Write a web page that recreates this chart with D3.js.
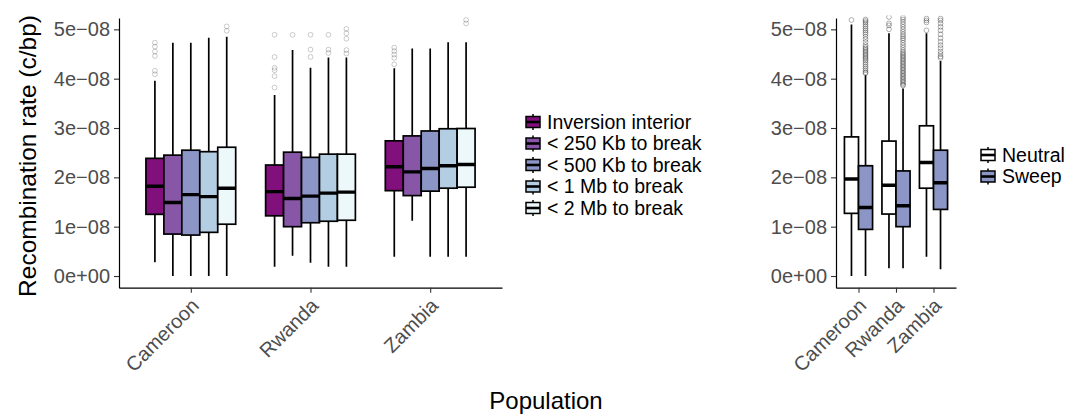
<!DOCTYPE html>
<html>
<head>
<meta charset="utf-8">
<script src="https://cdn.jsdelivr.net/npm/d3@7"></script>
<style>
  html, body { margin: 0; padding: 0; background: #fff; }
  svg { display: block; font-family: "Liberation Sans", Arial, sans-serif; }
</style>
</head>
<body>
<svg id="chart" width="1080" height="417"></svg>
<script>
// Populations on the x axis of both panels
const populations = ["Cameroon", "Rwanda", "Zambia"];

// Left panel: distance classes relative to inversion breakpoints
const regions = ["Inversion interior", "< 250 Kb to break", "< 500 Kb to break", "< 1 Mb to break", "< 2 Mb to break"];
const regionColors = ["#810f7c", "#8856a7", "#8c96c6", "#b3cde3", "#edf8fb"];

// Box statistics per region, one row per population: [lower whisker, Q1, median, Q3, upper whisker]
const statsInversion = [[0.28e-8, 1.25e-8, 1.82e-8, 2.385e-8, 3.96e-8], [0.19e-8, 1.22e-8, 1.71e-8, 2.25e-8, 3.67e-8], [0.39e-8, 1.73e-8, 2.215e-8, 2.74e-8, 4.21e-8]];
const stats250Kb   = [[0, 0.85e-8, 1.49e-8, 2.45e-8, 4.73e-8], [0.41e-8, 1.0e-8, 1.57e-8, 2.51e-8, 4.58e-8], [1.12e-8, 1.63e-8, 2.11e-8, 2.84e-8, 4.61e-8]];
const stats500Kb   = [[0, 0.83e-8, 1.65e-8, 2.55e-8, 4.73e-8], [0.27e-8, 1.08e-8, 1.62e-8, 2.405e-8, 4.22e-8], [0.39e-8, 1.72e-8, 2.18e-8, 2.94e-8, 4.61e-8]];
const stats1Mb     = [[0, 0.885e-8, 1.61e-8, 2.52e-8, 4.83e-8], [0.19e-8, 1.11e-8, 1.68e-8, 2.47e-8, 4.43e-8], [0.39e-8, 1.78e-8, 2.235e-8, 2.985e-8, 4.74e-8]];
const stats2Mb     = [[0, 1.05e-8, 1.78e-8, 2.61e-8, 4.85e-8], [0.19e-8, 1.13e-8, 1.70e-8, 2.47e-8, 4.43e-8], [0.39e-8, 1.80e-8, 2.26e-8, 2.99e-8, 4.74e-8]];

// Outliers per region, one list per population
const outInversion = [[4.73e-8, 4.65e-8, 4.55e-8, 4.46e-8, 4.16e-8, 4.09e-8], [4.89e-8, 4.44e-8, 4.22e-8, 4.17e-8, 4.05e-8, 3.82e-8], [4.63e-8, 4.56e-8, 4.49e-8, 4.42e-8, 4.29e-8]];
const out250Kb   = [[], [4.89e-8], []];
const out500Kb   = [[], [4.89e-8, 4.59e-8, 4.44e-8], []];
const out1Mb     = [[], [4.89e-8, 4.59e-8, 4.52e-8], []];
const out2Mb     = [[5.06e-8, 4.97e-8], [5.01e-8, 4.92e-8, 4.81e-8, 4.58e-8, 4.51e-8], [5.19e-8, 5.12e-8]];

// Right panel: neutral vs sweep windows
const selection = ["Neutral", "Sweep"];
const selectionColors = ["#ffffff", "#8c96c6"];
const statsNeutral = [[0, 1.27e-8, 1.965e-8, 2.82e-8, 5.1e-8], [0.155e-8, 1.256e-8, 1.84e-8, 2.735e-8, 4.92e-8], [0.39e-8, 1.78e-8, 2.30e-8, 3.045e-8, 4.92e-8]];
const statsSweep   = [[0, 0.945e-8, 1.39e-8, 2.235e-8, 4.07e-8], [0.155e-8, 1.0e-8, 1.425e-8, 2.13e-8, 3.80e-8], [0.135e-8, 1.35e-8, 1.89e-8, 2.55e-8, 4.36e-8]];
const outNeutral = [
  [5.19e-8],
  [5.25e-8, 5.12e-8, 5.08e-8, 5.0e-8],
  [5.22e-8, 5.18e-8, 5.14e-8, 4.98e-8]
];
const outSweep = [
  [5.20e-8, 5.17e-8, 5.14e-8, 5.10e-8, 5.06e-8, 5.02e-8, 4.98e-8, 4.94e-8, 4.90e-8, 4.85e-8, 4.80e-8, 4.74e-8, 4.68e-8, 4.64e-8, 4.61e-8, 4.58e-8, 4.55e-8, 4.52e-8, 4.49e-8, 4.46e-8, 4.43e-8, 4.40e-8, 4.37e-8, 4.33e-8, 4.29e-8, 4.25e-8, 4.21e-8, 4.17e-8, 4.13e-8, 4.11e-8],
  [5.24e-8, 5.20e-8, 5.15e-8, 5.10e-8, 5.05e-8, 5.00e-8, 4.95e-8, 4.90e-8, 4.86e-8, 4.82e-8, 4.78e-8, 4.73e-8, 4.68e-8, 4.63e-8, 4.58e-8, 4.54e-8, 4.51e-8, 4.48e-8, 4.45e-8, 4.42e-8, 4.39e-8, 4.36e-8, 4.33e-8, 4.30e-8, 4.27e-8, 4.24e-8, 4.21e-8, 4.18e-8, 4.15e-8, 4.12e-8, 4.09e-8, 4.06e-8, 4.03e-8, 4.00e-8, 3.97e-8, 3.94e-8, 3.91e-8, 3.88e-8, 3.86e-8],
  [5.22e-8, 5.18e-8, 5.12e-8, 5.05e-8, 4.98e-8, 4.90e-8, 4.82e-8, 4.75e-8, 4.68e-8, 4.62e-8, 4.55e-8, 4.50e-8, 4.45e-8, 4.42e-8]
];

// Y axis ticks and limits (shared by both panels)
const yTicks = [0, 1e-8, 2e-8, 3e-8, 4e-8, 5e-8];
const yLimits = [-2.37e-9, 5.23e-8];

const leftStats = [statsInversion, stats250Kb, stats500Kb, stats1Mb, stats2Mb];
const leftOut = [outInversion, out250Kb, out500Kb, out1Mb, out2Mb];
const rightStats = [statsNeutral, statsSweep];
const rightOut = [outNeutral, outSweep];

const svg = d3.select("#chart");
const panelTop = 18, panelBottom = 287.7;

const y = d3.scaleLinear().domain(yLimits).range([panelBottom, panelTop]);

function fmtTick(v) {
  if (v === 0) return "0e+00";
  const exp = Math.floor(Math.log10(Math.abs(v)) + 1e-9);
  const mant = Math.round(v / Math.pow(10, exp));
  return mant + "e\u2212" + String(-exp).padStart(2, "0");
}

function drawPanel(opts) {
  const { id, x0, x1, groups, stats, outliers, colors, outOpacity } = opts;
  const x = d3.scalePoint().domain(populations).range([x0, x1]).padding(0.6);
  const step = x.step();
  const sub = d3.scaleBand().domain(groups).range([-0.375 * step, 0.375 * step]).padding(0);
  const bw = sub.bandwidth();

  const g = svg.append("g");

  svg.append("clipPath").attr("id", id)
    .append("rect").attr("x", x0).attr("y", 15.5).attr("width", x1 - x0).attr("height", panelBottom - 15.5);

  const plot = g.append("g").attr("clip-path", `url(#${id})`);

  groups.forEach((grp, gi) => {
    populations.forEach((pop, pi) => {
      const s = stats[gi][pi];
      const cx = x(pop) + sub(grp) + bw / 2;
      const left = x(pop) + sub(grp);
      // outliers
      plot.selectAll(null).data(outliers[gi][pi]).enter().append("circle")
        .attr("cx", cx).attr("cy", d => y(d)).attr("r", 2.4)
        .attr("fill", "none").attr("stroke", "#000").attr("stroke-opacity", outOpacity).attr("stroke-width", 1);
      // whiskers
      plot.append("line").attr("x1", cx).attr("x2", cx).attr("y1", y(s[3])).attr("y2", y(s[4]))
        .attr("stroke", "#000").attr("stroke-width", 1.7);
      plot.append("line").attr("x1", cx).attr("x2", cx).attr("y1", y(s[1])).attr("y2", y(s[0]))
        .attr("stroke", "#000").attr("stroke-width", 1.7);
      // box
      plot.append("rect").attr("x", left).attr("width", bw)
        .attr("y", y(s[3])).attr("height", y(s[1]) - y(s[3]))
        .attr("fill", colors[gi]).attr("stroke", "#000").attr("stroke-width", 1.7);
      // median
      plot.append("line").attr("x1", left).attr("x2", left + bw).attr("y1", y(s[2])).attr("y2", y(s[2]))
        .attr("stroke", "#000").attr("stroke-width", 3.4);
    });
  });

  // y axis
  const ya = g.append("g").attr("transform", `translate(${x0},0)`)
    .call(d3.axisLeft(y).tickValues(yTicks).tickFormat(fmtTick).tickSize(5).tickSizeOuter(0).tickPadding(4));
  ya.select(".domain").attr("stroke", "#000").attr("stroke-width", 1.2);
  ya.selectAll(".tick line").attr("stroke", "#333").attr("stroke-width", 1.1);
  ya.selectAll(".tick text").attr("fill", "#4d4d4d").attr("font-size", 20)
    .attr("font-family", "Liberation Sans, Arial, sans-serif");

  // x axis
  const xa = g.append("g").attr("transform", `translate(0,${panelBottom})`)
    .call(d3.axisBottom(x).tickSize(5).tickSizeOuter(0).tickFormat(""));
  xa.select(".domain").attr("stroke", "#000").attr("stroke-width", 1.2);
  xa.selectAll(".tick line").attr("stroke", "#333").attr("stroke-width", 1.1);

  g.selectAll(null).data(populations).enter().append("text")
    .attr("transform", d => `translate(${x(d) - 1},${panelBottom + 9}) rotate(-45)`)
    .attr("text-anchor", "end").attr("dy", "0.72em")
    .attr("font-size", 20).attr("fill", "#4d4d4d")
    .text(d => d);

  return x;
}

drawPanel({ id: "clipL", x0: 119, x1: 502, groups: regions, stats: leftStats, outliers: leftOut, colors: regionColors, outOpacity: 0.2 });
drawPanel({ id: "clipR", x0: 836, x1: 956, groups: selection, stats: rightStats, outliers: rightOut, colors: selectionColors, outOpacity: 0.3 });

// legends
function drawLegend(items, colors, kx, ky0, dy) {
  const lg = svg.append("g");
  items.forEach((name, i) => {
    const cy = ky0 + i * dy;
    const k = lg.append("g").attr("transform", `translate(${kx},${cy})`);
    k.append("line").attr("x1", 8).attr("x2", 8).attr("y1", -8).attr("y2", 8).attr("stroke", "#000").attr("stroke-width", 1.5);
    k.append("rect").attr("x", 1).attr("y", -5.5).attr("width", 14).attr("height", 11)
      .attr("fill", colors[i]).attr("stroke", "#000").attr("stroke-width", 1.5);
    k.append("line").attr("x1", 1).attr("x2", 15).attr("y1", 0).attr("y2", 0).attr("stroke", "#000").attr("stroke-width", 2.6);
    lg.append("text").attr("x", kx + 22).attr("y", cy).attr("dy", "0.35em")
      .attr("font-size", 19.5).attr("fill", "#000").text(name);
  });
}
drawLegend(regions, regionColors, 525, 122, 21.5);
drawLegend(selection, selectionColors, 980, 155, 21.5);

// axis titles
svg.append("text").attr("transform", "translate(36,156) rotate(-90)")
  .attr("text-anchor", "middle").attr("font-size", 24.5).attr("fill", "#000")
  .text("Recombination rate (c/bp)");
svg.append("text").attr("x", 546).attr("y", 409)
  .attr("text-anchor", "middle").attr("font-size", 24).attr("fill", "#000")
  .text("Population");
</script>
</body>
</html>
